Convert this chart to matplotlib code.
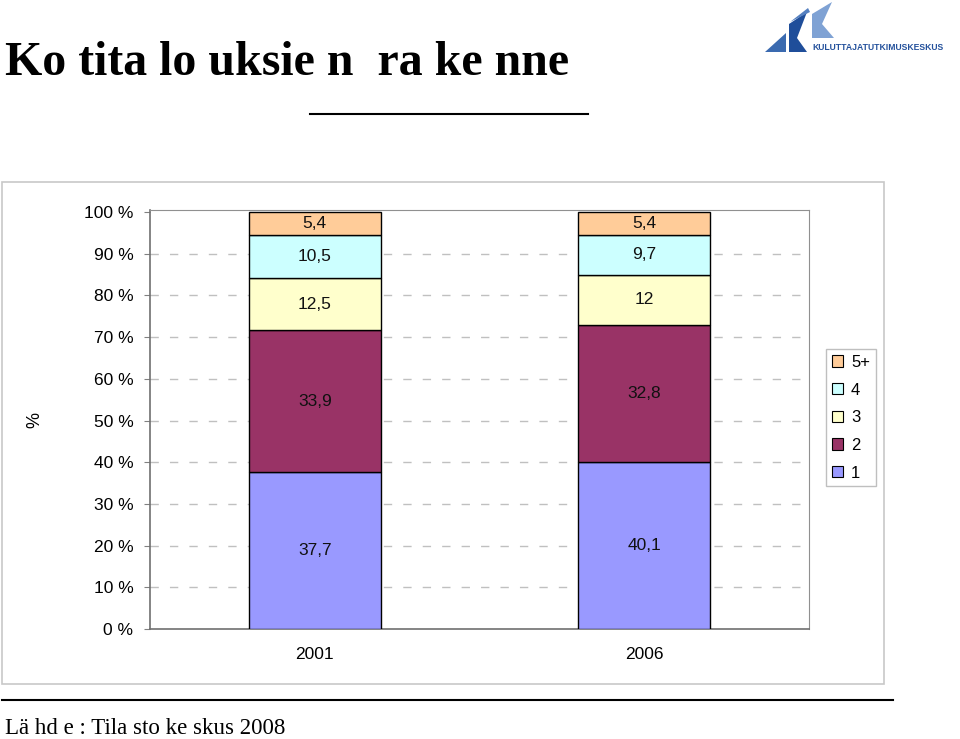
import matplotlib
matplotlib.use("Agg")
import matplotlib.pyplot as plt
from matplotlib.patches import Rectangle, Polygon
from matplotlib.lines import Line2D

# data
years = ["2001", "2006"]
series = ["1", "2", "3", "4", "5+"]
values = {
    "1": [37.7, 40.1],
    "2": [33.9, 32.8],
    "3": [12.5, 12.0],
    "4": [10.5, 9.7],
    "5+": [5.4, 5.4],
}
labels = {
    "1": ["37,7", "40,1"],
    "2": ["33,9", "32,8"],
    "3": ["12,5", "12"],
    "4": ["10,5", "9,7"],
    "5+": ["5,4", "5,4"],
}
colors = {"1": "#9999FF", "2": "#993366", "3": "#FFFFCC", "4": "#CCFFFF", "5+": "#FFCC99"}
yticks = list(range(0, 101, 10))

W, H = 960, 739
fig = plt.figure(figsize=(W / 100, H / 100), dpi=100)


def fx(px):
    return px / W


def fy(py):
    return 1 - py / H


# chart frame
fig.patches.append(Rectangle((fx(2), fy(684)), fx(882), (684 - 182) / H,
                             transform=fig.transFigure, fill=False,
                             edgecolor="#c8c8c8", lw=1.2))

ax = fig.add_axes([fx(150), fy(629), fx(659), (629 - 210) / H])
x = list(range(len(years)))
bottom = [0.0] * len(years)
for s in series:
    bars = ax.bar(x, values[s], 0.4, bottom=bottom, color=colors[s],
                  edgecolor="black", linewidth=1.0, label=s, zorder=3)
    for i, b in enumerate(bars):
        ax.text(b.get_x() + b.get_width() / 2, bottom[i] + values[s][i] / 2,
                labels[s][i], ha="center", va="center", fontsize=12.5,
                family="Liberation Sans", color="#111111", zorder=4)
    bottom = [bt + v for bt, v in zip(bottom, values[s])]

ax.set_xlim(-0.5, 1.5)
ax.set_ylim(0, 100.48)
ax.set_yticks(yticks)
ax.set_yticklabels([f"{t} %" for t in yticks], family="Liberation Sans", fontsize=12.5)
ax.set_xticks(x)
ax.set_xticklabels(years, family="Liberation Sans", fontsize=12.5)
ax.tick_params(axis="y", length=4, pad=8, color="#808080")
ax.tick_params(axis="x", length=0, pad=13)
for t in yticks[1:-1]:
    ax.axhline(t, color="#c0c0c0", lw=1, ls=(0, (6, 8)), zorder=1)
for side in ["top", "right"]:
    ax.spines[side].set_color("#909090")
for side in ["left", "bottom"]:
    ax.spines[side].set_color("#707070")
    ax.spines[side].set_linewidth(1.2)

fig.text(fx(35), fy(420), "%", rotation=90, ha="center", va="center",
         family="Liberation Sans", fontsize=13)

# legend
handles = [Rectangle((0, 0), 1, 1, facecolor=colors[s], edgecolor="black", lw=0.8)
           for s in series[::-1]]
leg = fig.legend(handles, series[::-1], loc="upper left",
                 bbox_to_anchor=(fx(826), fy(349)), frameon=True, fancybox=False,
                 prop={"family": "Liberation Sans", "size": 12},
                 handlelength=0.65, handleheight=0.65, handletextpad=0.5,
                 labelspacing=0.76, borderpad=0.35, borderaxespad=0)
leg.get_frame().set_edgecolor("#b0b0b0")
leg.get_frame().set_linewidth(1.0)

# title and decorative lines
fig.text(fx(5), fy(63), "Ko tita lo uksie n  ra ke nne", ha="left", va="center",
         family="Liberation Serif", fontweight="bold", fontsize=34.5)
fig.add_artist(Line2D([fx(310), fx(588)], [fy(114), fy(114)], color="black", lw=1.5))
fig.add_artist(Line2D([fx(2), fx(893)], [fy(700), fy(700)], color="black", lw=1.5))
fig.text(fx(5), fy(728), "Lä hd e : Tila sto ke skus 2008", ha="left", va="center",
         family="Liberation Serif", fontsize=16.5)

# logo
logo_shapes = [
    ([(765, 52), (786, 52), (786, 33)], "#3a6ab0"),
    ([(789, 52), (789, 24), (807, 12), (797, 38), (807, 52)], "#1f4e9a"),
    ([(790, 22), (808, 8), (810, 12)], "#5580c0"),
    ([(812, 38), (812, 14), (832, 2), (822, 24), (834, 38)], "#7fa2d4"),
]
for pts, c in logo_shapes:
    fig.patches.append(Polygon([(fx(a), fy(b)) for a, b in pts], closed=True,
                               transform=fig.transFigure, facecolor=c, edgecolor="none"))
fig.text(fx(812), fy(47), "KULUTTAJATUTKIMUSKESKUS", ha="left", va="center",
         family="Liberation Sans", fontweight="bold", fontsize=6.2, color="#24519c")

fig.savefig("out.png", dpi=100)
